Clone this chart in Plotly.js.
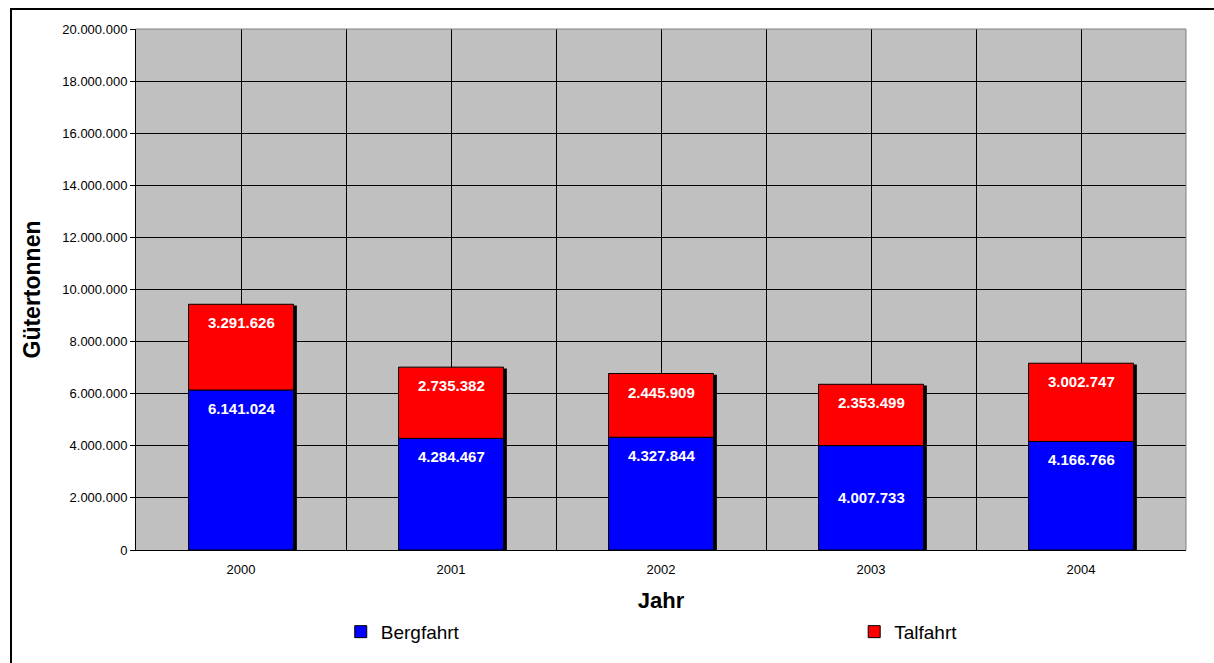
<!DOCTYPE html>
<html>
<head>
<meta charset="utf-8">
<script src="https://cdn.plot.ly/plotly-3.0.1.min.js"></script>
<style>
  html, body { margin: 0; padding: 0; background: #fff; overflow: hidden; }
  #chart { width: 1214px; height: 663px; }
  #frame { position: absolute; left: 10px; top: 8px; width: 1300px; height: 800px;
           border: 2px solid #000; pointer-events: none; }
</style>
</head>
<body>
<div id="chart"></div>
<div id="frame"></div>
<script>
// Jahre und Gütertonnen
const years = ['2000', '2001', '2002', '2003', '2004'];
const bergfahrt = [6141024, 4284467, 4327844, 4007733, 4166766];
const talfahrt = [3291626, 2735382, 2445909, 2353499, 3002747];
const yTicks = [0, 2e6, 4e6, 6e6, 8e6, 10e6, 12e6, 14e6, 16e6, 18e6, 20e6];

// label placement inside the blue segment ('top' or 'middle')
const bergLabelPos = ['top', 'top', 'top', 'middle', 'top'];

const fmt = v => v.toLocaleString('de-DE');
const xs = years.map((_, i) => i);
const totals = bergfahrt.map((v, i) => v + talfahrt[i]);

const shadow = {
  type: 'bar', x: xs, y: totals.map(t => t + 150000), base: -200000,
  width: 0.5, offset: -0.25 + 0.016,
  marker: { color: '#000', line: { width: 0 } },
  hoverinfo: 'skip', showlegend: false
};

const berg = {
  type: 'bar', name: 'Bergfahrt', x: xs, y: bergfahrt, base: 0,
  width: 0.5, offset: -0.25, legend: 'legend',
  marker: { color: '#0000FF', line: { color: '#000', width: 1 } }
};

const tal = {
  type: 'bar', name: 'Talfahrt', x: xs, y: talfahrt, base: bergfahrt,
  width: 0.5, offset: -0.25, legend: 'legend2',
  marker: { color: '#FF0000', line: { color: '#000', width: 1 } }
};

const labelFont = { family: 'Liberation Sans, Arial, sans-serif', size: 15, color: '#fff' };
const annotations = [];
years.forEach((_, i) => {
  const mid = bergLabelPos[i] === 'middle';
  annotations.push({
    x: i, y: mid ? bergfahrt[i] / 2 : bergfahrt[i],
    yanchor: mid ? 'middle' : 'top', yshift: mid ? 0 : -8,
    text: '<b>' + fmt(bergfahrt[i]) + '</b>', showarrow: false, font: labelFont
  });
  annotations.push({
    x: i, y: totals[i], yanchor: 'top', yshift: -8,
    text: '<b>' + fmt(talfahrt[i]) + '</b>', showarrow: false, font: labelFont
  });
});

const legendBase = {
  orientation: 'h', yanchor: 'middle', y: -0.157, xanchor: 'left',
  itemwidth: 30, font: { size: 19 }, bgcolor: 'rgba(0,0,0,0)'
};

const layout = {
  width: 1214, height: 663,
  margin: { l: 136, r: 28, t: 29, b: 113, autoexpand: false },
  paper_bgcolor: 'rgba(0,0,0,0)',
  plot_bgcolor: '#C0C0C0',
  barmode: 'overlay',
  font: { family: 'Liberation Sans, Arial, sans-serif', color: '#000' },
  xaxis: {
    range: [-0.5, 4.5], tickvals: xs, ticktext: years,
    showgrid: false, zeroline: false,
    minor: { dtick: 0.5, tick0: -0.5, showgrid: true, gridcolor: '#000', gridwidth: 1 },
    showline: true, linecolor: '#000', linewidth: 1,
    ticks: '', tickfont: { size: 13 }, ticklabelstandoff: 7,
    title: { text: '<b>Jahr</b>', font: { size: 22 }, standoff: 17 }
  },
  yaxis: {
    range: [0, 20e6], tickvals: yTicks, ticktext: yTicks.map(fmt),
    showgrid: true, gridcolor: '#000', gridwidth: 1, zeroline: false,
    showline: true, linecolor: '#000', linewidth: 1,
    ticks: 'outside', ticklen: 5, tickcolor: '#000', tickfont: { size: 13 },
    title: { text: '<b>Gütertonnen</b>', font: { size: 23 }, standoff: 15 }
  },
  shapes: [
    { type: 'line', xref: 'paper', yref: 'paper', x0: 0, x1: 1, y0: 1, y1: 1,
      line: { color: '#808080', width: 1 } },
    { type: 'line', xref: 'paper', yref: 'paper', x0: 1, x1: 1, y0: 0, y1: 1,
      line: { color: '#808080', width: 1 } }
  ],
  legend: Object.assign({}, legendBase, { x: 0.195 }),
  legend2: Object.assign({}, legendBase, { x: 0.684 }),
  annotations: annotations,
  showlegend: true
};

Plotly.newPlot('chart', [shadow, berg, tal], layout, { displayModeBar: false, staticPlot: true });
</script>
</body>
</html>
